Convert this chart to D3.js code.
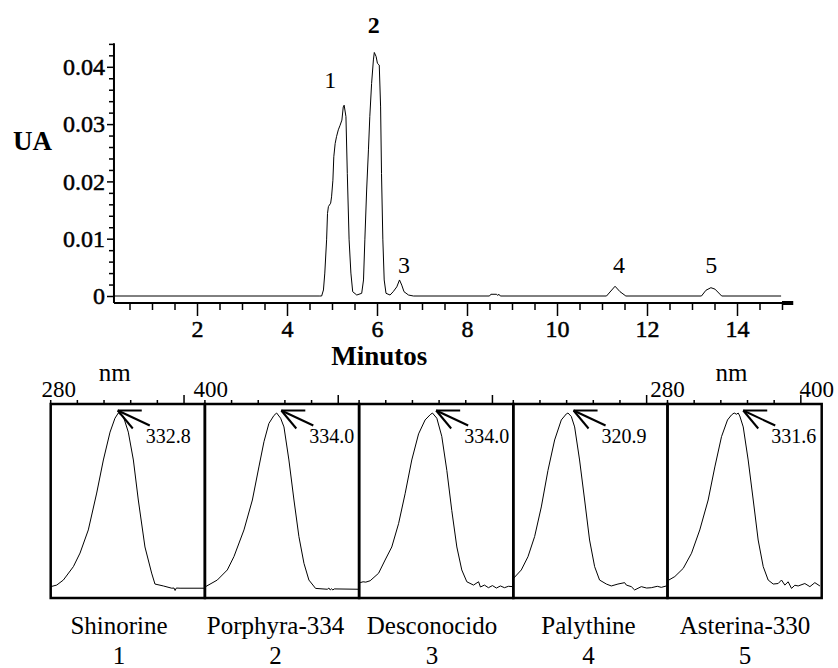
<!DOCTYPE html>
<html lang="en">
<head>
<meta charset="UTF-8">
<title>Cromatograma y espectros</title>
<style>
    body { margin: 0; background: #fff; }
    svg { display: block; background: #fff; }
    .axis path { display: none; }
    .axis line { stroke: #000; stroke-width: 1.5px; }
    .axis text { font-size: 24px; fill: #000; stroke: #000; stroke-width: 0.5px; }
    .axisLine { stroke: #000; stroke-width: 2px; }
    .trace { fill: none; stroke: #000; stroke-width: 1px; }
    .box { fill: none; stroke: #000; stroke-width: 2.5px; }
    .arrow { stroke: #000; stroke-width: 2px; }
    .peakLabel { font-size: 24px; }
    .lambda { font-size: 20px; }
    .nmLabel { font-size: 23px; }
    .name { font-size: 25px; }
    .number { font-size: 25px; }
</style>
<script src="https://cdn.jsdelivr.net/npm/d3@7"></script>
</head>
<body>
<script>
    // ---------- data ----------
    // chromatogram: [minutes, UA]
    const chromatogram = [
        [0.15, 0], [4.73, 0], [4.77, 0], [4.81, 0.00105], [4.84, 0.0040], [4.88, 0.0098],
        [4.90, 0.0144], [4.92, 0.0156], [4.97, 0.0162], [4.99, 0.0173], [5.02, 0.0202],
        [5.04, 0.0243], [5.07, 0.0266], [5.10, 0.0278], [5.14, 0.0290], [5.18, 0.0298],
        [5.22, 0.0307], [5.25, 0.0330], [5.27, 0.0333], [5.31, 0.0313], [5.34, 0.0214],
        [5.38, 0.0098], [5.42, 0.0040], [5.46, 0.00075], [5.55, 0.00017], [5.66, 0.00047],
        [5.70, 0.0028], [5.73, 0.0098], [5.77, 0.0185], [5.81, 0.0255], [5.84, 0.0313],
        [5.88, 0.0371], [5.92, 0.0412], [5.94, 0.0425], [5.98, 0.0418], [6.01, 0.0406],
        [6.05, 0.0403], [6.08, 0.0330], [6.10, 0.0214], [6.13, 0.0098], [6.16, 0.0028],
        [6.20, 0.00047], [6.29, 0.00017], [6.36, 0.00075], [6.44, 0.0016], [6.50, 0.0028],
        [6.55, 0.0019], [6.60, 0.00075], [6.70, 0.00017], [6.81, 0], [8.50, 0],
        [8.53, 0.0003], [8.66, 0.0003], [8.68, 0.0001], [8.71, 0.0003], [8.74, 0],
        [11.10, 0], [11.29, 0.0017], [11.40, 0.00075], [11.53, 0], [13.21, 0],
        [13.31, 0.0010], [13.42, 0.00145], [13.51, 0.0012], [13.66, 0], [14.98, 0]
    ];
    const peakNames = ["1", "2", "3", "4", "5"];
    const peakLabelAt = [[4.96, 0.0363], [5.93, 0.0459], [6.60, 0.0040], [11.38, 0.0040], [13.43, 0.0040]];
    const xMajor = [2, 4, 6, 8, 10, 12, 14];
    const xMinor = d3.range(0.5, 15.01, 0.5).filter(d => d % 2 !== 0);
    const yMajor = [0, 0.01, 0.02, 0.03, 0.04];
    const yMinor = d3.range(0, 0.0441, 0.002).filter(d => Math.abs(d * 100 - Math.round(d * 100)) > 1e-6);

    // UV spectra: [nm, relative absorbance]
    const compounds = ["Shinorine", "Porphyra-334", "Desconocido", "Palythine", "Asterina-330"];
    const lambdaMax = ["332.8", "334.0", "334.0", "320.9", "331.6"];
    const arrowAt = [330.3, 337.3, 337.8, 325.2, 336.8];
    const spectra = [
        [[280, 0.002], [284.5, 0.011], [289.5, 0.04], [297, 0.117], [302, 0.195], [308.2, 0.328],
         [314.5, 0.54], [319.5, 0.73], [324.5, 0.89], [328.2, 0.97], [330.7, 1.0], [334.5, 0.98],
         [338.2, 0.89], [342, 0.73], [345.7, 0.5], [350.7, 0.23], [355.7, 0.08], [358.2, 0.017],
         [364.5, 0.006], [370.8, -0.007], [372.5, -0.006], [373.3, -0.02], [374.2, -0.006],
         [377, -0.007], [395.5, -0.007]],
        [[280.5, 0.002], [289.3, 0.04], [296.8, 0.098], [301.8, 0.175], [309.3, 0.328], [315.6, 0.5],
         [320.5, 0.69], [324.3, 0.835], [328, 0.94], [331.8, 0.986], [333.8, 1.0], [336.8, 0.97],
         [339.3, 0.92], [343, 0.73], [346.8, 0.5], [350.5, 0.29], [354.3, 0.136], [358, 0.04],
         [363, -0.008], [371.8, -0.013], [373, -0.006], [374, -0.017], [375, -0.01], [376, -0.017],
         [377, -0.011], [395.5, -0.013]],
        [[280.8, 0.025], [283, 0.03], [285, 0.028], [288.3, 0.036], [294.6, 0.079], [299.5, 0.155],
         [304.5, 0.23], [309.6, 0.364], [314.5, 0.536], [319.5, 0.73], [324.6, 0.88], [329.5, 0.96],
         [333.3, 0.99], [335, 1.0], [338.3, 0.97], [342, 0.866], [345.8, 0.67], [349.5, 0.44],
         [353.3, 0.23], [357, 0.098], [360.8, 0.03], [365.8, 0.011], [369.6, 0.03], [371, 0.0],
         [374, 0.011], [377, -0.004], [380, 0.008], [383, -0.006], [386, 0.006], [389, -0.004],
         [392, 0.004], [395.5, 0.002]],
        [[280.2, 0.05], [286, 0.098], [291, 0.174], [296, 0.29], [301, 0.46], [306, 0.67],
         [311, 0.845], [316, 0.96], [319.8, 0.995], [321, 1.0], [323.5, 0.98], [326, 0.92],
         [329.7, 0.73], [333.5, 0.5], [337.2, 0.27], [341, 0.117], [344.7, 0.04], [349.8, 0.017],
         [353.5, 0.006], [358.5, 0.017], [363.5, 0.025], [364.8, 0.011], [368.5, 0.002],
         [371, -0.017], [376, 0.002], [380, -0.006], [383.5, -0.004], [388, 0.004], [391, -0.002],
         [394.8, 0.006]],
        [[281, 0.04], [285.5, 0.06], [291.8, 0.107], [298, 0.194], [304.2, 0.328], [310.5, 0.5],
         [315.5, 0.69], [320.5, 0.864], [325, 0.96], [328, 0.989], [330, 1.0], [331.8, 0.993],
         [333, 1.0], [334.2, 0.983], [336.8, 0.92], [340.5, 0.73], [344.3, 0.5], [348, 0.27],
         [351.8, 0.117], [355.5, 0.04], [359.3, 0.017], [363, 0.02], [365.5, 0.04], [368, 0.011],
         [370.5, 0.03], [373, -0.008], [375.5, 0.01], [378, 0.006], [383, 0.02], [386.8, 0.002],
         [390.5, 0.025], [394.3, 0.006]]
    ];
    const nmMinor = [280, 300, 320, 340, 360];
    const nmMajor = [380];

    // ---------- svg ----------
    const width = 838, height = 668;
    const svg = d3.select("body").append("svg")
        .attr("width", width).attr("height", height)
        .attr("viewBox", `0,0,${width},${height}`);

    /* ------------- chromatogram ------------- */
    const x = d3.scaleLinear().domain([0, 15]).range([107, 782]);
    const y = d3.scaleLinear().domain([0, 0.04]).range([296, 66.8]);
    const axisY = y(-0.00122);   // x axis sits a little under zero
    const axisX = x(0.155);

    svg.append("g").attr("class", "axis")
        .attr("transform", `translate(0,${axisY})`)
        .call(d3.axisBottom(x).tickValues(xMinor).tickSize(7).tickFormat(""));
    svg.append("g").attr("class", "axis")
        .attr("transform", `translate(0,${axisY})`)
        .call(d3.axisBottom(x).tickValues(xMajor).tickSize(13).tickPadding(4).tickFormat(d3.format("d")));

    svg.append("g").attr("class", "axis")
        .attr("transform", `translate(${axisX},0)`)
        .call(d3.axisLeft(y).tickValues(yMinor).tickSize(5).tickFormat(""));
    svg.append("g").attr("class", "axis")
        .attr("transform", `translate(${axisX},0)`)
        .call(d3.axisLeft(y).tickValues(yMajor).tickSize(7).tickPadding(2)
            .tickFormat(d => d === 0 ? "0" : d.toFixed(2)));
    svg.selectAll(".axis").attr("font-size", null);

    svg.append("line").attr("class", "axisLine")
        .attr("x1", axisX).attr("x2", axisX)
        .attr("y1", axisY).attr("y2", y(0.0441));
    svg.append("line").attr("class", "axisLine")
        .attr("x1", axisX).attr("x2", x(15))
        .attr("y1", axisY).attr("y2", axisY);
    svg.append("line").attr("class", "axisLine")
        .attr("x1", x(15)).attr("x2", x(15.25))
        .attr("y1", axisY).attr("y2", axisY)
        .style("stroke-width", "4px");

    svg.append("path").attr("class", "trace")
        .attr("d", d3.line().x(d => x(d[0])).y(d => y(d[1]))(chromatogram));

    svg.selectAll(".peakLabel")
        .data(peakNames)
        .enter()
        .append("text")
        .attr("class", "peakLabel")
        .attr("text-anchor", "middle")
        .attr("x", (d, i) => x(peakLabelAt[i][0]))
        .attr("y", (d, i) => y(peakLabelAt[i][1]))
        .attr("font-weight", d => d === "2" ? "bold" : "normal")
        .text(d => d);

    svg.append("text").text("UA")
        .attr("x", 13).attr("y", 150)
        .attr("font-size", 27).attr("font-weight", "bold");
    svg.append("text").text("Minutos")
        .attr("x", x(6.05)).attr("y", 365)
        .attr("text-anchor", "middle")
        .attr("font-size", 27).attr("font-weight", "bold");

    /* ------------- spectra panels ------------- */
    const panel = d3.scaleBand().domain(compounds).range([50.7, 821.7]);
    const wl = d3.scaleLinear().domain([280, 400]).range([0, 160]);
    const abs = d3.scaleLinear().domain([0, 1]).range([587, 413]);
    const boxTop = 404, boxBottom = 598;

    const panels = svg.selectAll(".panel")
        .data(compounds)
        .enter()
        .append("g")
        .attr("class", "panel")
        .attr("transform", d => `translate(${panel(d)},0)`);

    panels.append("rect").attr("class", "box")
        .attr("x", 0).attr("y", boxTop)
        .attr("width", panel.bandwidth()).attr("height", boxBottom - boxTop);

    panels.selectAll(".minor")
        .data(nmMinor).enter().append("line")
        .attr("x1", d => wl(d)).attr("x2", d => wl(d))
        .attr("y1", boxTop).attr("y2", boxTop - 4)
        .attr("stroke", "#000").attr("stroke-width", 1.5);
    panels.selectAll(".major")
        .data(nmMajor).enter().append("line")
        .attr("x1", d => wl(d)).attr("x2", d => wl(d))
        .attr("y1", boxTop).attr("y2", boxTop - 9)
        .attr("stroke", "#000").attr("stroke-width", 1.5);

    panels.append("path").attr("class", "trace")
        .attr("d", (d, i) => d3.line().x(p => wl(p[0])).y(p => abs(p[1]))(spectra[i]));

    // arrow pointing at lambda max
    const arrows = panels.append("g")
        .attr("transform", (d, i) => `translate(${wl(arrowAt[i])},${abs(1) - 2.5})`);
    arrows.append("line").attr("class", "arrow").attr("x2", 24).attr("y2", 0);
    arrows.append("line").attr("class", "arrow").attr("x2", 15).attr("y2", 18);
    arrows.append("line").attr("class", "arrow").attr("x2", 32).attr("y2", 15);
    arrows.append("text").attr("class", "lambda")
        .attr("x", 28).attr("y", 32)
        .text((d, i) => lambdaMax[i]);

    // wavelength labels on first and last panel only
    const last = compounds.length - 1;
    const labelled = panels.filter((d, i) => i === 0 || i === last);
    labelled.append("text").attr("class", "nmLabel").attr("text-anchor", "middle")
        .attr("x", (d, i) => i === 0 ? wl(286) : wl(280)).attr("y", 397).text("280");
    labelled.append("text").attr("class", "nmLabel").attr("text-anchor", "middle")
        .attr("x", (d, i) => i === 0 ? wl(400) : wl(392)).attr("y", 397).text("400");
    labelled.append("text").attr("class", "nmLabel").attr("text-anchor", "middle")
        .attr("x", wl(328)).attr("y", 381).style("font-size", "25px").text("nm");

    // compound names and numbers, spread a little tighter than the panels
    const nameX = d3.scalePoint().domain(compounds).range([119, 745]);
    svg.selectAll(".name")
        .data(compounds)
        .enter()
        .append("text")
        .attr("class", "name")
        .attr("text-anchor", "middle")
        .attr("x", d => nameX(d)).attr("y", 634)
        .text(d => d);
    svg.selectAll(".number")
        .data(compounds)
        .enter()
        .append("text")
        .attr("class", "number")
        .attr("text-anchor", "middle")
        .attr("x", d => nameX(d)).attr("y", 664)
        .text((d, i) => peakNames[i]);

    // Times-like face for every label
    svg.selectAll(".axis").attr("font-family", null);
    svg.selectAll("text").attr("font-family", "'Liberation Serif'").attr("fill", "#000");
</script>
</body>
</html>
